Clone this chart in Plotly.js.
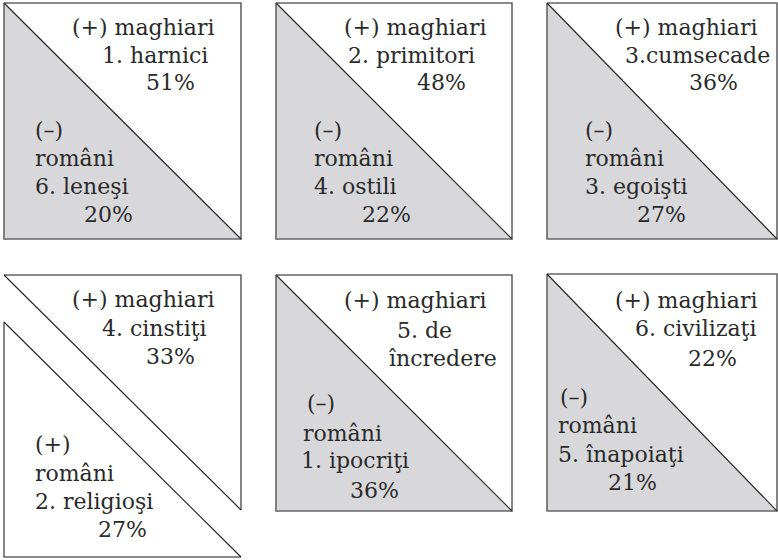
<!DOCTYPE html>
<html>
<head>
<meta charset="utf-8">
<script src="https://cdn.plot.ly/plotly-3.0.1.min.js"></script>
<style>html,body{margin:0;padding:0;background:#fff;}#chart{width:778px;height:560px;}</style>
</head>
<body>
<div id="chart"></div>
<script>
// ---- data ----
const maghiariSign = ["+", "+", "+", "+", "+", "+"];
const maghiariTraits = ["1. harnici", "2. primitori", "3.cumsecade", "4. cinstiţi", "5. de|încredere", "6. civilizaţi"];
const maghiariPct = [51, 48, 36, 33, null, 22];
const romaniSign = ["–", "–", "–", "+", "–", "–"];
const romaniTraits = ["6. leneşi", "4. ostili", "3. egoişti", "2. religioşi", "1. ipocriţi", "5. înapoiaţi"];
const romaniPct = [20, 22, 27, 27, 36, 21];

// ---- layout geometry (positions only) ----
const boxes = [
  {x0: 4, x1: 241, y0: 3, y1: 239, split: false},
  {x0: 276, x1: 512, y0: 3, y1: 239, split: false},
  {x0: 547, x1: 777, y0: 3, y1: 239, split: false},
  {x0: 4, x1: 241, y0: 275, y1: 510, split: true, gap: 47},
  {x0: 276, x1: 512, y0: 275, y1: 511, split: false},
  {x0: 547, x1: 777, y0: 274, y1: 511, split: false}
];
const upperPos = [
  [[70, 27], [100, 55], [144, 82]],
  [[342, 27], [346, 55], [415, 82]],
  [[613, 27], [623, 55], [687, 82]],
  [[70, 299], [100, 328], [144, 356]],
  [[342, 300], [395, 330], [387, 358]],
  [[613, 300], [633, 328], [686, 358]]
];
const lowerPos = [
  [[33, 130], [33, 158], [33, 186], [82, 214]],
  [[312, 130], [312, 158], [312, 186], [360, 214]],
  [[583, 130], [583, 158], [583, 186], [635, 214]],
  [[33, 444], [33, 473], [33, 501], [96, 529]],
  [[305, 403], [301, 433], [299, 460], [348, 490]],
  [[558, 397], [556, 425], [556, 454], [606, 482]]
];

const GRAY = "#d8d8da";
const EDGE = "#666666";
const DIAG = "#222222";
const traces = [];
const annotations = [];
const FONT = {family: "DejaVu Serif", size: 22, color: "#2a2a2a"};

function ann(x, y, text) {
  annotations.push({x: x, y: y, xref: "x", yref: "y", text: text, showarrow: false,
    xanchor: "left", yanchor: "middle", font: FONT});
}

boxes.forEach((b, i) => {
  if (!b.split) {
    traces.push({type: "scatter", mode: "lines", x: [b.x0, b.x0, b.x1, b.x0], y: [b.y0, b.y1, b.y1, b.y0],
      fill: "toself", fillcolor: GRAY, line: {width: 0}, hoverinfo: "skip"});
    traces.push({type: "scatter", mode: "lines", x: [b.x0, b.x1, b.x1, b.x0, b.x0], y: [b.y0, b.y0, b.y1, b.y1, b.y0],
      line: {color: EDGE, width: 1.6}, hoverinfo: "skip"});
    traces.push({type: "scatter", mode: "lines", x: [b.x0, b.x1], y: [b.y0, b.y1],
      line: {color: DIAG, width: 1.1}, hoverinfo: "skip"});
  } else {
    traces.push({type: "scatter", mode: "lines", x: [b.x0, b.x1, b.x1], y: [b.y0, b.y0, b.y1],
      line: {color: EDGE, width: 1.6}, hoverinfo: "skip"});
    traces.push({type: "scatter", mode: "lines", x: [b.x0, b.x1], y: [b.y0, b.y1],
      line: {color: DIAG, width: 1.1}, hoverinfo: "skip"});
    const ly0 = b.y0 + b.gap, ly1 = b.y1 + b.gap;
    traces.push({type: "scatter", mode: "lines", x: [b.x0, b.x0, b.x1], y: [ly0, ly1, ly1],
      line: {color: EDGE, width: 1.6}, hoverinfo: "skip"});
    traces.push({type: "scatter", mode: "lines", x: [b.x0, b.x1], y: [ly0, ly1],
      line: {color: DIAG, width: 1.1}, hoverinfo: "skip"});
  }
  const up = ["(" + maghiariSign[i] + ") maghiari"].concat(maghiariTraits[i].split("|"));
  if (maghiariPct[i] !== null) up.push(maghiariPct[i] + "%");
  up.forEach((t, k) => ann(upperPos[i][k][0], upperPos[i][k][1], t));
  const lo = ["(" + romaniSign[i] + ")", "români", romaniTraits[i], romaniPct[i] + "%"];
  lo.forEach((t, k) => ann(lowerPos[i][k][0], lowerPos[i][k][1], t));
});

const layout = {
  width: 778, height: 560,
  margin: {l: 0, r: 0, t: 0, b: 0},
  paper_bgcolor: "#ffffff", plot_bgcolor: "#ffffff",
  showlegend: false,
  xaxis: {range: [0, 778], visible: false, fixedrange: true},
  yaxis: {range: [560, 0], visible: false, fixedrange: true},
  annotations: annotations
};
Plotly.newPlot("chart", traces, layout, {displayModeBar: false, staticPlot: true});
</script>
</body>
</html>
